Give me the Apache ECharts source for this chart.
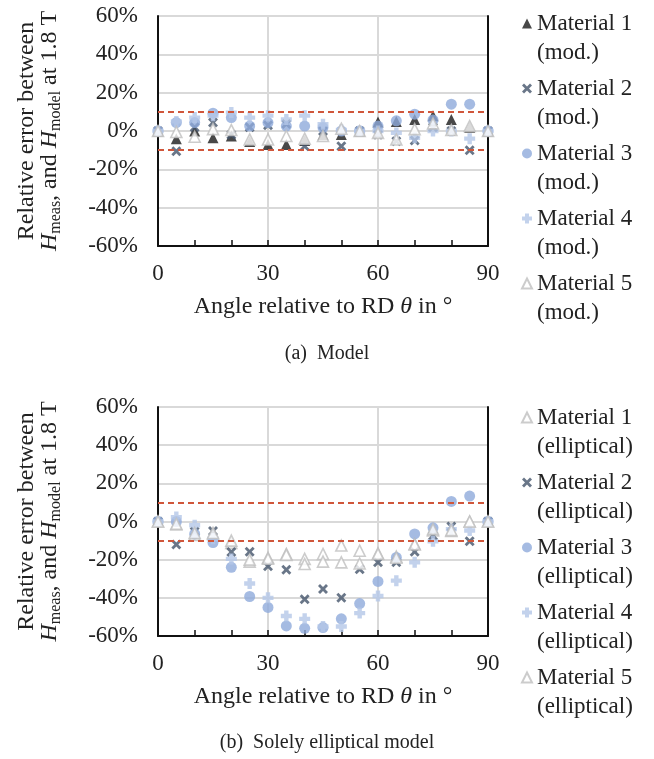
<!DOCTYPE html>
<html>
<head>
<meta charset="utf-8">
<title>Relative error</title>
<script src="https://cdn.jsdelivr.net/npm/echarts@6/dist/echarts.min.js"></script>
<style>
  html, body { margin: 0; padding: 0; background: #fff; }
  #main { width: 654px; height: 759px; }
</style>
</head>
<body>
<div id="main"></div>
<script>
// angle relative to RD in degrees
var angles = [0, 5, 10, 15, 20, 25, 30, 35, 40, 45, 50, 55, 60, 65, 70, 75, 80, 85, 90];

// (a) model, relative error in %
var modM1 = [0, -4, 0, -3.5, -2.6, -5.5, -7, -7, -5, -2, -1.8, 0, 4.7, 5, 6, 8, 6, 2, 0];
var modM2 = [0, -10.5, 2, 4.4, -2, 2, 3, 3.6, -8, 0, -8, 0, -2, -5.3, -5, 2, 0, -10, 0];
var modM3 = [0, 4.4, 4.4, 9.3, 7, 2.6, 4.4, 2.6, 2.6, 1.8, 0, 0, 2.6, 5.3, 8.8, 5.8, 14, 14, 0];
var modM4 = [0, 5, 7, 8, 9.6, 7, 8, 6, 8, 3.5, 0.5, 0, 0, -1, -3.5, 0, 0, -4, 0];
var modM5 = [0, -0.5, -3, 1, 0.5, -4.4, -4.4, -2.6, -4, -2.6, 1.2, 0, -1, -4.4, 1, 4, 0.5, 2.6, 0];

// (b) solely elliptical model, relative error in %
var ellM1 = [0, -1.6, -7, -6.5, -11.2, -21, -19, -17, -19.6, -17, -12.6, -15.3, -16.7, -18.4, -11.8, -4.7, -5, 0, 0];
var ellM2 = [0, -12, -5.3, -5, -16, -15.8, -23.5, -25.3, -40.7, -35.4, -40, -25, -21.4, -21.4, -15.8, -7.5, -2.6, -10.4, 0];
var ellM3 = [0, 0, -6.5, -11, -24, -39.3, -45, -54.7, -56, -55.6, -51, -43, -31.4, -18.8, -6.5, -3.3, 10.5, 13.3, 0];
var ellM4 = [0, 2.3, -2, -9, -19.6, -32.5, -40, -49.5, -51, -55, -55, -48, -39, -31, -21.4, -10.4, -4, -4.7, 0];
var ellM5 = [0, -1.2, -6, -6, -10, -20, -19.5, -17.5, -22.3, -21, -21.4, -22, -17, -19, -12, -4, -4.5, 0, 0];

// ±10 % band
var limits = [10, -10];

var serif = 'Liberation Serif';
var crossX = 'path://M0,2 L2,0 L5,3 L8,0 L10,2 L7,5 L10,8 L8,10 L5,7 L2,10 L0,8 L3,5 Z';
var plus = 'path://M3,0 H7 V3 H10 V7 H7 V10 H3 V7 H0 V3 H3 Z';

var styles = {
    black: { symbol: 'triangle', size: 11, item: { color: '#1a1a1a' } },
    x: { symbol: crossX, size: 10, item: { color: '#44546a' } },
    dot: { symbol: 'circle', size: 11, item: { color: '#8eaadb' } },
    plus: { symbol: plus, size: 11, item: { color: '#b4c7e7' } },
    open: { symbol: 'triangle', size: 11, item: { color: '#ffffff', borderColor: '#bfbfbf', borderWidth: 1.6 } }
};

function pairs(vals) {
    return angles.map(function (a, i) { return [a, vals[i]]; });
}

function scatter(name, vals, st, gi, withLimits) {
    var s = {
        name: name,
        type: 'scatter',
        xAxisIndex: gi,
        yAxisIndex: gi * 2,
        symbol: st.symbol,
        symbolSize: st.size,
        itemStyle: st.item,
        data: pairs(vals)
    };
    if (withLimits) {
        s.markLine = {
            silent: true,
            symbol: 'none',
            label: { show: false },
            lineStyle: { color: '#d0563b', type: [6, 4], width: 2 },
            data: limits.map(function (v) { return { yAxis: v }; })
        };
    }
    return s;
}

// ticks every 10°, labels and grid lines only every 30°
function xAx(gi) {
    return {
        type: 'value', gridIndex: gi, min: 0, max: 90, interval: 10,
        name: 'Angle relative to RD {i|θ} in °',
        nameLocation: 'middle', nameGap: 49,
        nameTextStyle: {
            fontFamily: serif, fontSize: 24, color: '#222',
            rich: { i: { fontFamily: serif, fontSize: 24, fontStyle: 'italic', color: '#222' } }
        },
        axisLine: { onZero: false, lineStyle: { color: '#111', width: 2 } },
        axisTick: { show: true, inside: true, length: 6, lineStyle: { color: '#111', width: 1.5 } },
        axisLabel: {
            fontFamily: serif, fontSize: 23, color: '#222', margin: 16,
            formatter: function (v) { return v % 30 === 0 ? String(v) : ''; }
        },
        splitLine: { show: true, lineStyle: { color: ['#d9d9d9', 'rgba(0,0,0,0)', 'rgba(0,0,0,0)'], width: 2 } }
    };
}

function yAx(gi) {
    return {
        type: 'value', gridIndex: gi, min: -60, max: 60, interval: 20,
        name: '{t|Relative error between}\n{h|H}{s|meas}{t|, and }{h|H}{s|model}{t| at 1.8 T}',
        nameLocation: 'middle', nameRotate: 90, nameGap: 84,
        nameTextStyle: {
            fontFamily: serif, fontSize: 24, color: '#222',
            rich: {
                t: { fontFamily: serif, fontSize: 24, lineHeight: 23, verticalAlign: 'top', color: '#222' },
                h: { fontFamily: serif, fontSize: 24, lineHeight: 23, verticalAlign: 'top', fontStyle: 'italic', color: '#222' },
                s: { fontFamily: serif, fontSize: 16, lineHeight: 36, verticalAlign: 'middle', color: '#222' }
            }
        },
        axisLine: { show: true, onZero: false, lineStyle: { color: '#111', width: 2 } },
        axisTick: { show: false },
        axisLabel: { fontFamily: serif, fontSize: 23, color: '#222', margin: 20, formatter: '{value}%' },
        splitLine: { show: true, lineStyle: { color: '#d9d9d9', width: 2 } }
    };
}

function yRight(gi) {
    return {
        type: 'value', gridIndex: gi, position: 'right', min: -60, max: 60, interval: 20,
        axisLine: { show: true, onZero: false, lineStyle: { color: '#111', width: 2 } },
        axisTick: { show: false }, axisLabel: { show: false }, splitLine: { show: false }
    };
}

// an empty first line keeps the icon level with "Material n"
function legend(names, top) {
    return {
        data: names,
        orient: 'vertical',
        left: 516, top: top,
        itemWidth: 10, itemHeight: 10,
        itemGap: -22,
        selectedMode: false,
        formatter: function (n) { return '\n' + n; },
        textStyle: { fontFamily: serif, fontSize: 23, lineHeight: 29, color: '#222' }
    };
}

var modNames = [1, 2, 3, 4, 5].map(function (n) { return 'Material ' + n + '\n(mod.)'; });
var ellNames = [1, 2, 3, 4, 5].map(function (n) { return 'Material ' + n + '\n(elliptical)'; });

var chart = echarts.init(document.getElementById('main'));
chart.setOption({
    animation: false,
    backgroundColor: '#fff',
    title: [
        { text: '(a)  Model', left: 'center', top: 339, textStyle: { fontFamily: serif, fontSize: 20, fontWeight: 'normal', color: '#222' } },
        { text: '(b)  Solely elliptical model', left: 'center', top: 728, textStyle: { fontFamily: serif, fontSize: 20, fontWeight: 'normal', color: '#222' } }
    ],
    legend: [legend(modNames, -25), legend(ellNames, 369)],
    grid: [
        { left: 158, top: 16, width: 330, height: 230 },
        { left: 158, top: 407, width: 330, height: 229 }
    ],
    xAxis: [xAx(0), xAx(1)],
    yAxis: [yAx(0), yRight(0), yAx(1), yRight(1)],
    series: [
        scatter(modNames[0], modM1, styles.black, 0, true),
        scatter(modNames[1], modM2, styles.x, 0),
        scatter(modNames[2], modM3, styles.dot, 0),
        scatter(modNames[3], modM4, styles.plus, 0),
        scatter(modNames[4], modM5, styles.open, 0),
        scatter(ellNames[0], ellM1, styles.open, 1, true),
        scatter(ellNames[1], ellM2, styles.x, 1),
        scatter(ellNames[2], ellM3, styles.dot, 1),
        scatter(ellNames[3], ellM4, styles.plus, 1),
        scatter(ellNames[4], ellM5, styles.open, 1)
    ]
});
</script>
</body>
</html>
